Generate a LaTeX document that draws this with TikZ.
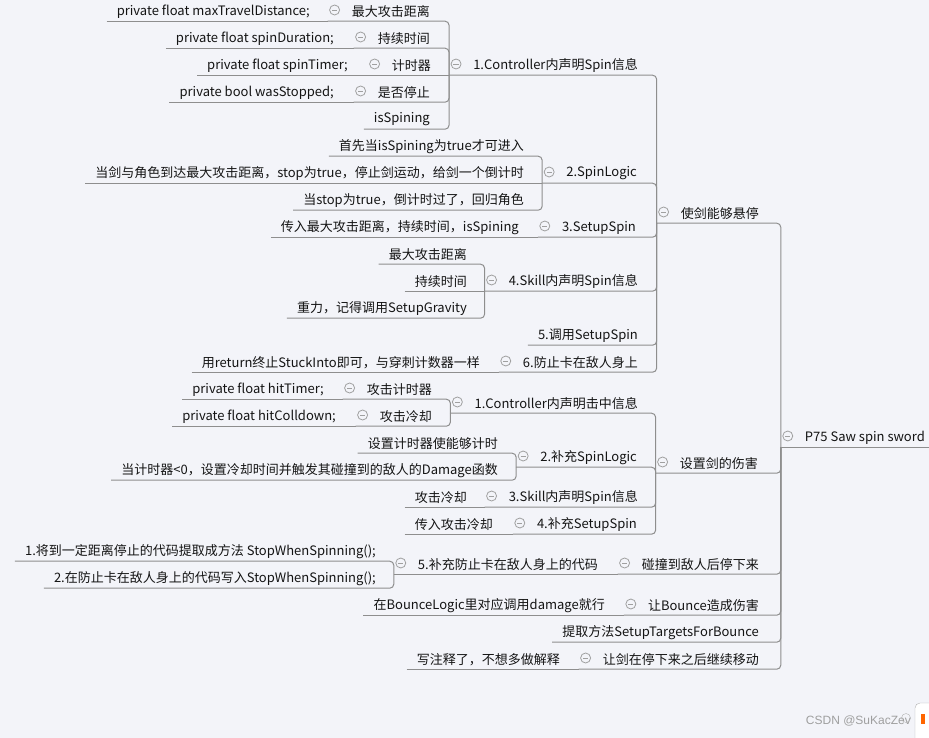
\documentclass[tikz,border=0pt]{standalone}
\usepackage{fontspec}
\setmainfont{Noto Sans CJK SC}
\newfontfamily\wmfont{Liberation Sans}
\definecolor{bg}{HTML}{F3F4F9}
\definecolor{lnc}{HTML}{8E8E8E}
\definecolor{txc}{HTML}{141414}
\definecolor{togc}{HTML}{A0A0A0}
\tikzset{
 txt/.style={inner sep=0pt, minimum height=22pt, text=txc, font=\fontsize{13}{15}\selectfont, anchor=east},
 conn/.style={draw=lnc, line width=1pt, rounded corners=4pt},
 tog/.style={draw=togc, line width=0.8pt, circle, minimum size=10pt, inner sep=0pt, fill=bg}
}
\newcommand{\leafn}[4]{\node[txt] (#1) at (#2,#3+1.5) {#4}; \coordinate (#1L) at ([xshift=-10pt,yshift=1.5pt]#1.south west);}
\newcommand{\parn}[4]{\node[txt] (#1) at (#2,#3+1.5) {#4}; \coordinate (#1L) at ([xshift=-24pt,yshift=1.5pt]#1.south west);
 \node[tog] (#1t) at ([xshift=-17pt,yshift=1.5pt]#1.west) {};
 \draw[togc, line width=0.8pt] ([xshift=-2.6pt]#1t.center) -- ([xshift=2.6pt]#1t.center);}
\newcommand{\cb}[2]{\draw[conn] (#1L) -- (#1L -| #2L) -- (#2L);}
\newcommand{\cs}[2]{\draw[conn] (#1L) -- (#2L);}
\begin{document}
\begin{tikzpicture}[x=1pt,y=-1pt]
\fill[bg] (0,0) rectangle (929,738);
\useasboundingbox (0,0) rectangle (929,738);
% root
\parn{R}{925}{436}{P75 Saw spin sword}
% branch A
\parn{A}{759}{212}{使剑能够悬停}
\parn{Aa}{638}{64}{1.Controller内声明Spin信息}
\parn{Aaa}{430}{10}{最大攻击距离}
\leafn{Aaa1}{310}{10}{private float maxTravelDistance;}
\parn{Aab}{430}{37}{持续时间}
\leafn{Aab1}{334}{37}{private float spinDuration;}
\parn{Aac}{431}{64}{计时器}
\leafn{Aac1}{348}{64}{private float spinTimer;}
\parn{Aad}{430}{91}{是否停止}
\leafn{Aad1}{334}{91}{private bool wasStopped;}
\leafn{Aae}{430}{118}{isSpining}
\parn{Ab}{637}{172}{2.SpinLogic}
\leafn{Aba}{524}{145}{首先当isSpining为true才可进入}
\leafn{Abb}{524}{172}{当剑与角色到达最大攻击距离，stop为true，停止剑运动，给剑一个倒计时}
\leafn{Abc}{524}{199}{当stop为true，倒计时过了，回归角色}
\parn{Ac}{636}{226}{3.SetupSpin}
\leafn{Aca}{519}{226}{传入最大攻击距离，持续时间，isSpining}
\parn{Ad}{638}{280}{4.Skill内声明Spin信息}
\leafn{Ada}{467}{253}{最大攻击距离}
\leafn{Adb}{467}{280}{持续时间}
\leafn{Adc}{467}{307}{重力，记得调用SetupGravity}
\leafn{Ae}{638}{334}{5.调用SetupSpin}
\parn{Af}{638}{361}{6.防止卡在敌人身上}
\leafn{Afa}{480}{361}{用return终止StuckInto即可，与穿刺计数器一样}
% branch B
\parn{B}{758}{462}{设置剑的伤害}
\parn{Ba}{638}{402}{1.Controller内声明击中信息}
\parn{Baa}{432}{388}{攻击计时器}
\leafn{Baa1}{324}{388}{private float hitTimer;}
\parn{Bab}{432}{415}{攻击冷却}
\leafn{Bab1}{336}{415}{private float hitColldown;}
\parn{Bb}{637}{456}{2.补充SpinLogic}
\leafn{Bba}{498}{442}{设置计时器使能够计时}
\leafn{Bbb}{498}{469}{当计时器<0，设置冷却时间并触发其碰撞到的敌人的Damage函数}
\parn{Bc}{638}{496}{3.Skill内声明Spin信息}
\leafn{Bca}{467}{496}{攻击冷却}
\parn{Bd}{637}{523}{4.补充SetupSpin}
\leafn{Bda}{493}{523}{传入攻击冷却}
% branch C..F
\parn{C}{759}{563}{碰撞到敌人后停下来}
\parn{Ca}{598}{563}{5.补充防止卡在敌人身上的代码}
\leafn{Caa}{376}{550}{1.将到一定距离停止的代码提取成方法 StopWhenSpinning();}
\leafn{Cab}{376}{577}{2.在防止卡在敌人身上的代码写入StopWhenSpinning();}
\parn{D}{759}{604}{让Bounce造成伤害}
\leafn{Da}{605}{604}{在BounceLogic里对应调用damage就行}
\leafn{E}{759}{631}{提取方法SetupTargetsForBounce}
\parn{F}{759}{658}{让剑在停下来之后继续移动}
\leafn{Fa}{560}{658}{写注释了，不想多做解释}
% connectors
\draw[conn] (RL) -- ++(152,0);
\cb{A}{R} \cb{B}{R} \cb{C}{R} \cb{D}{R} \cb{E}{R} \cb{F}{R}
\cb{Aa}{A} \cb{Ab}{A} \cb{Ac}{A} \cb{Ad}{A} \cb{Ae}{A} \cb{Af}{A}
\cb{Aaa}{Aa} \cb{Aab}{Aa} \cs{Aac}{Aa} \cb{Aad}{Aa} \cb{Aae}{Aa}
\cs{Aaa1}{Aaa} \cs{Aab1}{Aab} \cs{Aac1}{Aac} \cs{Aad1}{Aad}
\cb{Aba}{Ab} \cs{Abb}{Ab} \cb{Abc}{Ab}
\cs{Aca}{Ac}
\cb{Ada}{Ad} \cs{Adb}{Ad} \cb{Adc}{Ad}
\cs{Afa}{Af}
\cb{Ba}{B} \cb{Bb}{B} \cb{Bc}{B} \cb{Bd}{B}
\cb{Baa}{Ba} \cb{Bab}{Ba}
\cs{Baa1}{Baa} \cs{Bab1}{Bab}
\cb{Bba}{Bb} \cb{Bbb}{Bb}
\cs{Bca}{Bc} \cs{Bda}{Bd}
\cs{Ca}{C} \cb{Caa}{Ca} \cb{Cab}{Ca}
\cs{Da}{D} \cs{Fa}{F}
% watermark
\node[anchor=east, inner sep=0pt, text=gray!75, font=\wmfont\fontsize{12}{14}\selectfont] (wm) at (911,721) {CSDN @SuKacZev};
\node[circle, draw=gray!60, minimum size=9pt, inner sep=0pt] (wmc) at (906,718) {};
\draw[draw=gray!60, fill=white, rounded corners=5pt] (915,703) rectangle (945,745);
\fill[orange!80!red] (921,714) rectangle (925,724);
\end{tikzpicture}
\end{document}
